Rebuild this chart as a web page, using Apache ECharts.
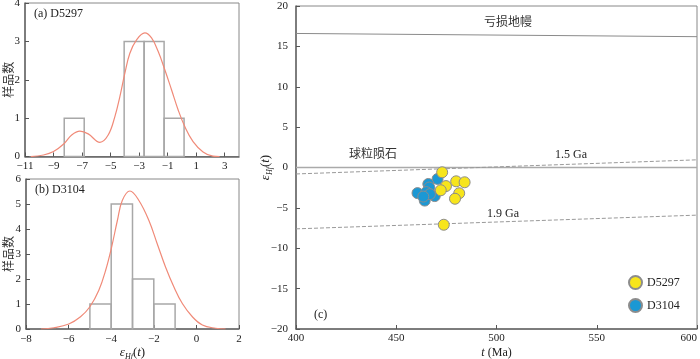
<!DOCTYPE html>
<html>
<head>
<meta charset="utf-8">
<script src="https://cdn.jsdelivr.net/npm/echarts@6/dist/echarts.min.js"></script>
<style>
  html, body { margin: 0; padding: 0; background: #fff; }
  #chart { width: 700px; height: 359px; }
</style>
</head>
<body>
<div id="chart"></div>
<script>
// (a) D5297 histogram
const binsA = [[-8.25, -6.85], [-4.05, -2.65], [-2.65, -1.25], [-1.25, 0.15]]
const countsA = [1, 3, 3, 1]
const curveAx = [-10.6, -9.7, -9.0, -8.25, -7.73, -7.15, -6.57, -5.75, -5.17, -4.7, -4.35, -4.0, -3.65, -3.18, -2.6, -2.13, -1.67, -1.2, -0.73, -0.27, 0.2, 0.78, 1.48, 2.17, 2.64]
const curveAy = [0, 0.04, 0.13, 0.34, 0.56, 0.66, 0.59, 0.37, 0.56, 1.04, 1.56, 2.17, 2.69, 3.04, 3.22, 3.09, 2.74, 2.26, 1.74, 1.22, 0.78, 0.39, 0.12, 0.01, 0]
const ticksA = [-11, -9, -7, -5, -3, -1, 1, 3]

// (b) D3104 histogram
const binsB = [[-5, -4], [-4, -3], [-3, -2], [-2, -1]]
const countsB = [1, 5, 2, 1]
const curveBx = [-7.3, -6.69, -5.99, -5.44, -5.0, -4.58, -4.26, -3.98, -3.71, -3.48, -3.12, -2.7, -2.23, -1.84, -1.45, -1.06, -0.66, -0.19, 0.28, 0.9, 1.37]
const curveBy = [0, 0.05, 0.2, 0.49, 0.89, 1.55, 2.35, 3.28, 4.34, 5.14, 5.52, 5.14, 4.34, 3.41, 2.48, 1.69, 1.02, 0.49, 0.16, 0.03, 0]

// (c) t vs eHf(t)
const d5297 = [[472.9, -0.59], [474.8, -2.3], [472.2, -2.82], [479.9, -1.71], [484.1, -1.83], [481.4, -3.19], [479.3, -3.87], [473.7, -7.09]]
const d3104 = [[470.6, -1.42], [466.0, -2.04], [466.5, -2.48], [460.6, -3.17], [465.0, -3.05], [469.2, -3.54], [464.2, -4.1], [466.8, -3.3], [463.5, -3.6]]
const depletedMantle = [[400, 16.6], [600, 16.2]]
const chondrite = [[400, 0], [600, 0]]
const crust15 = [[400, -0.8], [600, 0.95]]
const crust19 = [[400, -7.6], [600, -5.9]]

const serif = 'Liberation Serif'
const cjk = 'Noto Sans CJK SC'
const minus = v => String(v).replace('-', '\u2212')
const epsRich = {
  e: { fontFamily: serif, fontStyle: 'italic', fontSize: 13, color: '#222', lineHeight: 16 },
  s: { fontFamily: serif, fontStyle: 'italic', fontSize: 8, color: '#222', verticalAlign: 'bottom', lineHeight: 16 },
  n: { fontFamily: serif, fontSize: 13, color: '#222', lineHeight: 16 },
  i: { fontFamily: serif, fontStyle: 'italic', fontSize: 13, color: '#222', lineHeight: 16 }
}
const epsName = '{e|ε}{s|Hf}{n|(}{i|t}{n|)}'

const axisCommon = {
  nameMoveOverlap: false,
  axisLine: { onZero: false, lineStyle: { color: '#666', width: 1.5 } },
  axisTick: { inside: true, length: 4, lineStyle: { color: '#555' } },
  axisLabel: { color: '#222', fontFamily: serif, fontSize: 11, formatter: minus },
  splitLine: { show: false }
}
const gridCommon = { show: true, borderColor: '#888', borderWidth: 1, outerBoundsMode: 'none', containLabel: false }

const histRender = (params, api) => {
  const p0 = api.coord([api.value(0), api.value(2)])
  const p1 = api.coord([api.value(1), 0])
  return {
    type: 'rect',
    shape: { x: p0[0], y: p0[1], width: p1[0] - p0[0], height: p1[1] - p0[1] },
    style: { fill: 'none', stroke: '#a8a8a8', lineWidth: 1.5 }
  }
}

const chart = echarts.init(document.getElementById('chart'))
const option = {
  animation: false,
  grid: [
    { ...gridCommon, left: 25, top: 3, width: 214, height: 153.5 },
    { ...gridCommon, left: 26, top: 179, width: 213, height: 150 },
    { ...gridCommon, left: 296, top: 6, width: 401, height: 323 }
  ],
  xAxis: [
    { ...axisCommon, type: 'value', gridIndex: 0, min: -11, max: 4,
      axisTick: { ...axisCommon.axisTick, customValues: ticksA },
      axisLabel: { ...axisCommon.axisLabel, customValues: ticksA, margin: 4 } },
    { ...axisCommon, type: 'value', gridIndex: 1, min: -8, max: 2, interval: 2,
      axisLabel: { ...axisCommon.axisLabel, margin: 5 },
      name: epsName, nameLocation: 'middle', nameGap: 16, nameTextStyle: { rich: epsRich } },
    { ...axisCommon, type: 'value', gridIndex: 2, min: 400, max: 600, interval: 50,
      axisLabel: { ...axisCommon.axisLabel, margin: 4, alignMaxLabel: 'right' },
      name: '{i|t} {n|(Ma)}', nameLocation: 'middle', nameGap: 16,
      nameTextStyle: { rich: { i: { ...epsRich.i, fontSize: 12 }, n: { ...epsRich.n, fontSize: 12 } } } }
  ],
  yAxis: [
    { ...axisCommon, type: 'value', gridIndex: 0, min: 0, max: 4, interval: 1,
      axisLabel: { ...axisCommon.axisLabel, margin: 5 },
      name: '样品数', nameLocation: 'middle', nameGap: 11,
      nameTextStyle: { fontFamily: cjk, fontSize: 12, color: '#333' } },
    { ...axisCommon, type: 'value', gridIndex: 1, min: 0, max: 6, interval: 1,
      axisLabel: { ...axisCommon.axisLabel, margin: 5 },
      name: '样品数', nameLocation: 'middle', nameGap: 12,
      nameTextStyle: { fontFamily: cjk, fontSize: 12, color: '#333' } },
    { ...axisCommon, type: 'value', gridIndex: 2, min: -20, max: 20, interval: 5,
      name: epsName, nameLocation: 'middle', nameGap: 22, nameTextStyle: { rich: epsRich } }
  ],
  legend: {
    orient: 'vertical', left: 623, top: 270, itemGap: 8, itemWidth: 13, itemHeight: 13,
    textStyle: { fontFamily: serif, fontSize: 12, color: '#222' },
    data: [{ name: 'D5297', icon: 'circle' }, { name: 'D3104', icon: 'circle' }]
  },
  graphic: [
    { type: 'text', left: 34, top: 8, style: { text: '(a) D5297', font: '12px "Liberation Serif"', fill: '#222' } },
    { type: 'text', left: 35, top: 184, style: { text: '(b) D3104', font: '12px "Liberation Serif"', fill: '#222' } },
    { type: 'text', left: 484, top: 15, style: { text: '亏损地幔', font: '12px "Noto Sans CJK SC"', fill: '#333' } },
    { type: 'text', left: 349, top: 147, style: { text: '球粒陨石', font: '12px "Noto Sans CJK SC"', fill: '#333' } },
    { type: 'text', left: 555, top: 149, style: { text: '1.5 Ga', font: '12px "Liberation Serif"', fill: '#222' } },
    { type: 'text', left: 487, top: 208, style: { text: '1.9 Ga', font: '12px "Liberation Serif"', fill: '#222' } },
    { type: 'text', left: 314, top: 309, style: { text: '(c)', font: '12px "Liberation Serif"', fill: '#222' } }
  ],
  series: [
    { type: 'custom', xAxisIndex: 0, yAxisIndex: 0, renderItem: histRender, encode: { x: [0, 1], y: 2 },
      data: binsA.map((b, i) => [b[0], b[1], countsA[i]]), z: 2 },
    { type: 'line', xAxisIndex: 0, yAxisIndex: 0, smooth: 0.4, showSymbol: false,
      lineStyle: { color: '#f08a78', width: 1.2 }, data: curveAx.map((x, i) => [x, curveAy[i]]), z: 3 },
    { type: 'custom', xAxisIndex: 1, yAxisIndex: 1, renderItem: histRender, encode: { x: [0, 1], y: 2 },
      data: binsB.map((b, i) => [b[0], b[1], countsB[i]]), z: 2 },
    { type: 'line', xAxisIndex: 1, yAxisIndex: 1, smooth: 0.4, showSymbol: false,
      lineStyle: { color: '#f08a78', width: 1.2 }, data: curveBx.map((x, i) => [x, curveBy[i]]), z: 3 },
    { type: 'line', xAxisIndex: 2, yAxisIndex: 2, showSymbol: false, silent: true,
      lineStyle: { color: '#8a8a8a', width: 1 }, data: depletedMantle },
    { type: 'line', xAxisIndex: 2, yAxisIndex: 2, showSymbol: false, silent: true,
      lineStyle: { color: '#aaa', width: 1.5 }, data: chondrite },
    { type: 'line', xAxisIndex: 2, yAxisIndex: 2, showSymbol: false, silent: true,
      lineStyle: { color: '#999', width: 1, type: [4, 2] }, data: crust15 },
    { type: 'line', xAxisIndex: 2, yAxisIndex: 2, showSymbol: false, silent: true,
      lineStyle: { color: '#999', width: 1, type: [4, 2] }, data: crust19 },
    { name: 'D3104', type: 'scatter', xAxisIndex: 2, yAxisIndex: 2, symbolSize: 11,
      itemStyle: { color: '#1b98d4', borderColor: '#8c8c8c', borderWidth: 1, opacity: 1 }, data: d3104, z: 5 },
    { name: 'D5297', type: 'scatter', xAxisIndex: 2, yAxisIndex: 2, symbolSize: 11,
      itemStyle: { color: '#f7e51c', borderColor: '#8c8c8c', borderWidth: 1, opacity: 1 }, data: d5297, z: 6 }
  ]
}
chart.setOption(option)
</script>
</body>
</html>
